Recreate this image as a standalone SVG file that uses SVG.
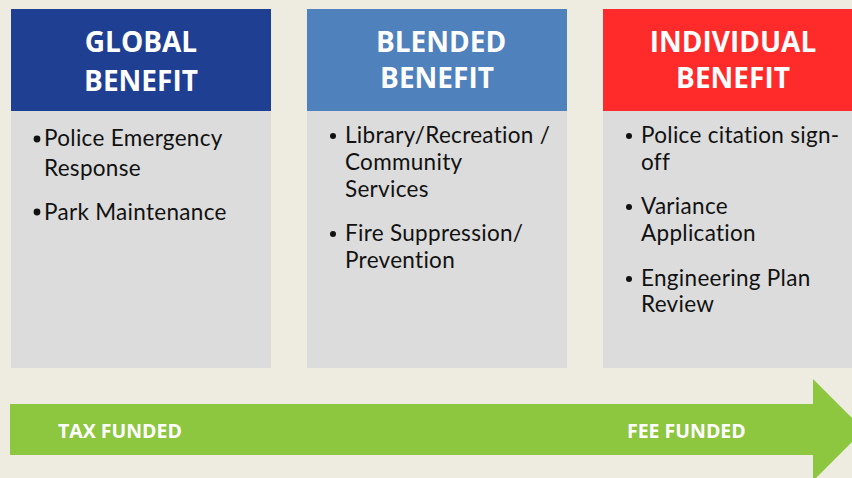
<svg xmlns="http://www.w3.org/2000/svg" width="852" height="478" viewBox="0 0 852 478">
  <style>
    .hdr { font-family: "Open Sans", "Liberation Sans", sans-serif; font-weight: bold; font-size: 28px; fill: #ffffff; text-anchor: middle; }
    .body { fill: #dcdcdc; }
    .item { font-family: Lato, "Open Sans", sans-serif; font-size: 22.5px; letter-spacing: 0.3px; fill: #111111; }
    .dot { fill: #111111; }
    .tag { font-family: "Open Sans", "Liberation Sans", sans-serif; font-weight: bold; font-size: 19.5px; fill: #ffffff; }
  </style>
  <rect width="852" height="478" fill="#eeebe0"/>

  <g id="global-benefit">
    <rect x="11" y="9" width="260" height="102" fill="#1f3f92"/>
    <rect class="body" x="11" y="111" width="260" height="257"/>
    <text class="hdr" x="141" y="52">GLOBAL</text>
    <text class="hdr" x="141" y="91">BENEFIT</text>
    <circle class="dot" cx="37" cy="139" r="3.4"/>
    <text class="item" x="44" y="146">Police Emergency</text>
    <text class="item" x="44" y="176">Response</text>
    <circle class="dot" cx="37" cy="212" r="3.4"/>
    <text class="item" x="44" y="220">Park Maintenance</text>
  </g>

  <g id="blended-benefit">
    <rect x="307" y="9" width="260" height="102" fill="#4f81bd"/>
    <rect class="body" x="307" y="111" width="260" height="257"/>
    <text class="hdr" x="441" y="52">BLENDED</text>
    <text class="hdr" x="437" y="88">BENEFIT</text>
    <circle class="dot" cx="333" cy="136" r="3"/>
    <text class="item" x="345" y="143">Library/Recreation /</text>
    <text class="item" x="345" y="170">Community</text>
    <text class="item" x="345" y="197">Services</text>
    <circle class="dot" cx="333" cy="234" r="3"/>
    <text class="item" x="345" y="241">Fire Suppression/</text>
    <text class="item" x="345" y="268">Prevention</text>
  </g>

  <g id="individual-benefit">
    <rect x="603" y="9" width="249" height="102" fill="#ff2a2a"/>
    <rect class="body" x="603" y="111" width="249" height="257"/>
    <text class="hdr" x="733" y="52">INDIVIDUAL</text>
    <text class="hdr" x="733" y="88">BENEFIT</text>
    <circle class="dot" cx="629" cy="136" r="3"/>
    <text class="item" x="641" y="143">Police citation sign-</text>
    <text class="item" x="641" y="170">off</text>
    <circle class="dot" cx="629" cy="207" r="3"/>
    <text class="item" x="641" y="214">Variance</text>
    <text class="item" x="641" y="241">Application</text>
    <circle class="dot" cx="629" cy="279" r="3"/>
    <text class="item" x="641" y="286">Engineering Plan</text>
    <text class="item" x="641" y="312">Review</text>
  </g>

  <g id="funding-arrow">
    <polygon points="10,404 813,404 813,379 864,430 813,481 813,455 10,455" fill="#8dc63f"/>
    <text class="tag" x="58" y="438">TAX FUNDED</text>
    <text class="tag" x="627" y="438">FEE FUNDED</text>
  </g>
</svg>
